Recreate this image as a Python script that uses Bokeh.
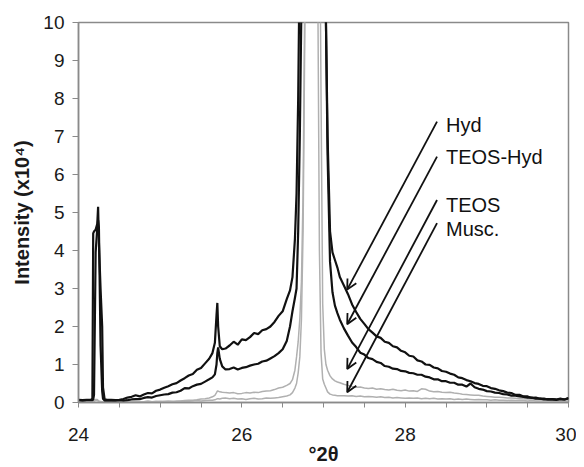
from bokeh.plotting import figure
from bokeh.models import (Range1d, FixedTicker, Arrow, OpenHead, ColumnDataSource)
from bokeh.core.properties import value
from bokeh.embed import file_html
from bokeh.resources import INLINE

# ---------------- data ----------------
two_theta = [
    24.00, 24.05, 24.10, 24.15, 24.17, 24.18, 24.19, 24.21, 24.23, 24.24, 24.25, 24.27, 24.29, 24.30, 24.32, 24.35,
    24.40, 24.45, 24.50, 24.55, 24.60, 24.65, 24.70, 24.75, 24.80, 24.85, 24.90, 24.95, 25.00, 25.05, 25.10, 25.15,
    25.20, 25.25, 25.30, 25.35, 25.40, 25.45, 25.50, 25.55, 25.60,
    25.64, 25.67, 25.69, 25.70, 25.71, 25.73, 25.76, 25.80,
    25.85, 25.90, 25.95, 26.00, 26.05, 26.10, 26.15, 26.20, 26.25, 26.30, 26.35, 26.40, 26.45, 26.50, 26.55,
    26.59, 26.62, 26.65, 26.67, 26.69, 26.71, 26.73, 26.75, 26.77, 26.80, 26.85, 26.90, 26.93, 26.95, 26.97, 26.99,
    27.01, 27.03, 27.05, 27.08, 27.11, 27.14, 27.17, 27.20,
    27.25, 27.30, 27.35, 27.40, 27.45, 27.50, 27.55, 27.60, 27.65, 27.70, 27.75, 27.80, 27.85, 27.90, 27.95, 28.00,
    28.05, 28.10, 28.15, 28.20, 28.25, 28.30, 28.35, 28.40, 28.45, 28.50, 28.55, 28.60, 28.65, 28.70, 28.75, 28.80,
    28.85, 28.90, 28.95, 29.00, 29.05, 29.10, 29.15, 29.20, 29.25, 29.30, 29.35, 29.40, 29.45, 29.50, 29.55, 29.60,
    29.65, 29.70, 29.75, 29.80, 29.85, 29.90, 29.95, 30.00,
]

hyd = [
    0.07, 0.06, 0.07, 0.07, 0.10, 4.45, 4.50, 4.55, 4.70, 5.15, 4.20, 3.00, 2.00, 0.40, 0.08, 0.07,
    0.07, 0.06, 0.07, 0.09, 0.13, 0.15, 0.19, 0.16, 0.21, 0.25, 0.24, 0.31, 0.34, 0.39, 0.43, 0.48,
    0.51, 0.58, 0.64, 0.71, 0.75, 0.86, 0.91, 1.03, 1.15,
    1.30, 1.57, 2.30, 2.62, 2.00, 1.48, 1.40, 1.42,
    1.50, 1.60, 1.52, 1.66, 1.64, 1.72, 1.83, 1.80, 1.90, 1.93, 2.00, 2.12, 2.28, 2.40, 2.72,
    2.95, 3.30, 4.30, 5.50, 8.00, 12.0, 18.0, 25.0, 30.0, 35.0, 40.0, 38.0, 32.0, 27.0, 22.0, 17.0,
    13.0, 10.0, 7.00, 4.50, 3.95, 3.75, 3.55, 3.30,
    3.08, 2.85, 2.58, 2.38, 2.20, 2.07, 1.93, 1.84, 1.74, 1.70, 1.60, 1.57, 1.48, 1.45, 1.36, 1.32,
    1.23, 1.21, 1.11, 1.08, 1.00, 0.99, 0.92, 0.90, 0.83, 0.81, 0.76, 0.73, 0.66, 0.64, 0.59, 0.56,
    0.51, 0.49, 0.44, 0.43, 0.38, 0.36, 0.32, 0.30, 0.26, 0.25, 0.20, 0.20, 0.16, 0.16, 0.12, 0.13,
    0.10, 0.10, 0.08, 0.09, 0.08, 0.10, 0.08, 0.12,
]

teos_hyd = [
    0.06, 0.05, 0.06, 0.06, 0.06, 0.08, 0.20, 3.95, 4.60, 4.80, 4.60, 1.50, 0.30, 0.10, 0.05, 0.05,
    0.05, 0.05, 0.06, 0.05, 0.06, 0.08, 0.09, 0.09, 0.12, 0.14, 0.13, 0.17, 0.19, 0.21, 0.22, 0.26,
    0.27, 0.31, 0.38, 0.37, 0.43, 0.47, 0.49, 0.55, 0.61,
    0.66, 0.74, 1.00, 1.30, 1.45, 1.15, 0.95, 0.87,
    0.88, 0.92, 0.87, 0.91, 0.93, 0.97, 1.00, 1.02, 1.08, 1.10, 1.16, 1.22, 1.30, 1.40, 1.62,
    2.00, 2.40, 2.75, 3.00, 4.50, 7.00, 10.5, 15.0, 22.0, 30.0, 36.0, 35.0, 30.0, 26.0, 21.0, 17.0,
    13.0, 10.0, 6.50, 3.70, 2.90, 2.55, 2.35, 2.18,
    1.95, 1.76, 1.58, 1.46, 1.31, 1.26, 1.17, 1.14, 1.07, 1.04, 0.96, 0.94, 0.89, 0.88, 0.83, 0.82,
    0.78, 0.77, 0.73, 0.73, 0.68, 0.66, 0.61, 0.61, 0.56, 0.56, 0.52, 0.52, 0.47, 0.47, 0.42, 0.50,
    0.40, 0.36, 0.34, 0.30, 0.29, 0.26, 0.25, 0.22, 0.21, 0.18, 0.18, 0.16, 0.15, 0.13, 0.13, 0.10,
    0.10, 0.08, 0.09, 0.08, 0.07, 0.09, 0.08, 0.11,
]

teos = [
    0.02, 0.02, 0.02, 0.02, 0.02, 0.03, 0.06, 0.08, 0.08, 0.06, 0.04, 0.03, 0.02, 0.02, 0.02, 0.02,
    0.02, 0.02, 0.02, 0.02, 0.02, 0.02, 0.03, 0.02, 0.02, 0.03, 0.02, 0.03, 0.02, 0.03, 0.03, 0.02,
    0.04, 0.04, 0.05, 0.06, 0.06, 0.07, 0.09, 0.10, 0.12,
    0.15, 0.19, 0.26, 0.30, 0.30, 0.28, 0.27, 0.26,
    0.25, 0.26, 0.23, 0.24, 0.26, 0.25, 0.27, 0.26, 0.29, 0.30, 0.31, 0.34, 0.38, 0.40, 0.45,
    0.50, 0.60, 0.85, 1.20, 1.60, 2.20, 3.20, 5.50, 10.5, 20.0, 35.0, 30.0, 22.0, 14.0, 8.00, 2.60,
    1.40, 1.00, 0.85, 0.70, 0.62, 0.57, 0.54, 0.52,
    0.48, 0.45, 0.42, 0.40, 0.41, 0.38, 0.37, 0.38, 0.35, 0.36, 0.34, 0.33, 0.35, 0.32, 0.31, 0.33,
    0.30, 0.31, 0.29, 0.36, 0.35, 0.30, 0.28, 0.29, 0.27, 0.26, 0.27, 0.25, 0.24, 0.22, 0.21, 0.20,
    0.19, 0.19, 0.17, 0.16, 0.15, 0.14, 0.14, 0.13, 0.12, 0.12, 0.11, 0.10, 0.10, 0.09, 0.09, 0.08,
    0.08, 0.08, 0.07, 0.08, 0.07, 0.07, 0.08, 0.07,
]

musc = [
    0.01, 0.01, 0.01, 0.01, 0.01, 0.02, 0.03, 0.05, 0.05, 0.04, 0.03, 0.02, 0.01, 0.01, 0.01, 0.01,
    0.01, 0.01, 0.01, 0.02, 0.01, 0.01, 0.02, 0.01, 0.02, 0.03, 0.02, 0.02, 0.03, 0.02, 0.03, 0.03,
    0.02, 0.03, 0.04, 0.03, 0.04, 0.05, 0.04, 0.05, 0.06,
    0.06, 0.07, 0.09, 0.10, 0.10, 0.09, 0.11, 0.12,
    0.10, 0.11, 0.09, 0.10, 0.08, 0.10, 0.11, 0.09, 0.10, 0.12, 0.11, 0.12, 0.13, 0.15, 0.17,
    0.20, 0.26, 0.38, 0.50, 0.78, 1.20, 2.20, 4.50, 9.50, 18.0, 30.0, 22.0, 11.0, 4.00, 1.30, 0.62,
    0.48, 0.38, 0.28, 0.22, 0.20, 0.19, 0.18, 0.18,
    0.18, 0.17, 0.18, 0.16, 0.17, 0.15, 0.16, 0.15, 0.14, 0.15, 0.13, 0.14, 0.12, 0.13, 0.12, 0.11,
    0.12, 0.11, 0.12, 0.10, 0.11, 0.10, 0.11, 0.09, 0.10, 0.09, 0.10, 0.08, 0.09, 0.08, 0.09, 0.08,
    0.07, 0.08, 0.07, 0.07, 0.06, 0.07, 0.06, 0.06, 0.05, 0.06, 0.05, 0.05, 0.05, 0.04, 0.05, 0.04,
    0.04, 0.04, 0.04, 0.03, 0.04, 0.03, 0.04, 0.03,
]

label_names = ["Hyd", "TEOS-Hyd", "TEOS", "Musc."]
label_x = [28.50, 28.50, 28.50, 28.50]
label_y = [7.30, 6.46, 5.19, 4.56]
arrow_x0 = [28.39, 28.39, 28.39, 28.39]
arrow_y0 = [7.39, 6.47, 5.33, 4.72]
arrow_x1 = [27.29, 27.29, 27.29, 27.29]
arrow_y1 = [2.97, 2.06, 0.88, 0.27]

x_major = [24, 26, 28, 30]
x_minor = [24.5, 25, 25.5, 26.5, 27, 27.5, 28.5, 29, 29.5]
y_major = [0, 1, 2, 3, 4, 5, 6, 7, 8, 9, 10]

assert len(hyd) == len(two_theta) == len(teos_hyd) == len(teos) == len(musc), (
    len(two_theta), len(hyd), len(teos_hyd), len(teos), len(musc))

# ---------------- figure ----------------
FONT = "Liberation Sans"
AXIS_GRAY = "#8a8a8a"

p = figure(width=576, height=467, output_backend="svg", toolbar_location=None,
           x_range=Range1d(24, 30), y_range=Range1d(0, 10),
           min_border_left=78, min_border_right=8, min_border_top=22, min_border_bottom=64)
p.xgrid.visible = False
p.ygrid.visible = False
p.outline_line_color = AXIS_GRAY
p.outline_line_width = 1.5
p.background_fill_color = "white"
p.border_fill_color = "white"

src = ColumnDataSource(dict(x=two_theta, hyd=hyd, teos_hyd=teos_hyd, teos=teos, musc=musc))
p.line("x", "musc", source=src, line_color="#b0b0b0", line_width=1.5)
p.line("x", "teos", source=src, line_color="#b0b0b0", line_width=1.5)
p.line("x", "teos_hyd", source=src, line_color="#111111", line_width=2.2)
p.line("x", "hyd", source=src, line_color="#111111", line_width=2.2)

for xs, ys, xe, ye in zip(arrow_x0, arrow_y0, arrow_x1, arrow_y1):
    p.add_layout(Arrow(end=OpenHead(size=10, line_width=1.8, line_color="#111111"),
                       x_start=xs, y_start=ys, x_end=xe, y_end=ye,
                       line_width=1.8, line_color="#111111"))

lab_src = ColumnDataSource(dict(x=label_x, y=label_y, t=label_names))
p.text("x", "y", text="t", source=lab_src, text_font=value(FONT), text_font_size="20px",
       text_color="#111111", text_baseline="alphabetic", text_align="left")

# axes
p.xaxis.ticker = FixedTicker(ticks=x_major, minor_ticks=x_minor)
p.yaxis.ticker = FixedTicker(ticks=y_major)
for ax in (p.xaxis, p.yaxis):
    ax.axis_line_color = AXIS_GRAY
    ax.axis_line_width = 1.5
    ax.major_tick_line_color = AXIS_GRAY
    ax.minor_tick_line_color = AXIS_GRAY
    ax.major_tick_in = 0
    ax.minor_tick_in = 0
    ax.major_label_text_font = FONT
    ax.major_label_text_font_size = "19px"
    ax.major_label_text_color = "#1a1a1a"
    ax.axis_label_text_font = FONT
    ax.axis_label_text_font_size = "20px"
    ax.axis_label_text_font_style = "bold"
    ax.axis_label_text_color = "#1a1a1a"
p.xaxis.major_tick_out = 5
p.xaxis.minor_tick_out = 5
p.yaxis.major_tick_out = 6
p.yaxis.minor_tick_out = 0
p.xaxis.major_label_standoff = 20
p.yaxis.major_label_standoff = 8
p.xaxis.axis_label = "°2θ"
p.yaxis.axis_label = "Intensity (x10⁴)"
p.xaxis.axis_label_standoff = -1
p.yaxis.axis_label_standoff = 7

open("out.html", "w").write(file_html(p, INLINE))
